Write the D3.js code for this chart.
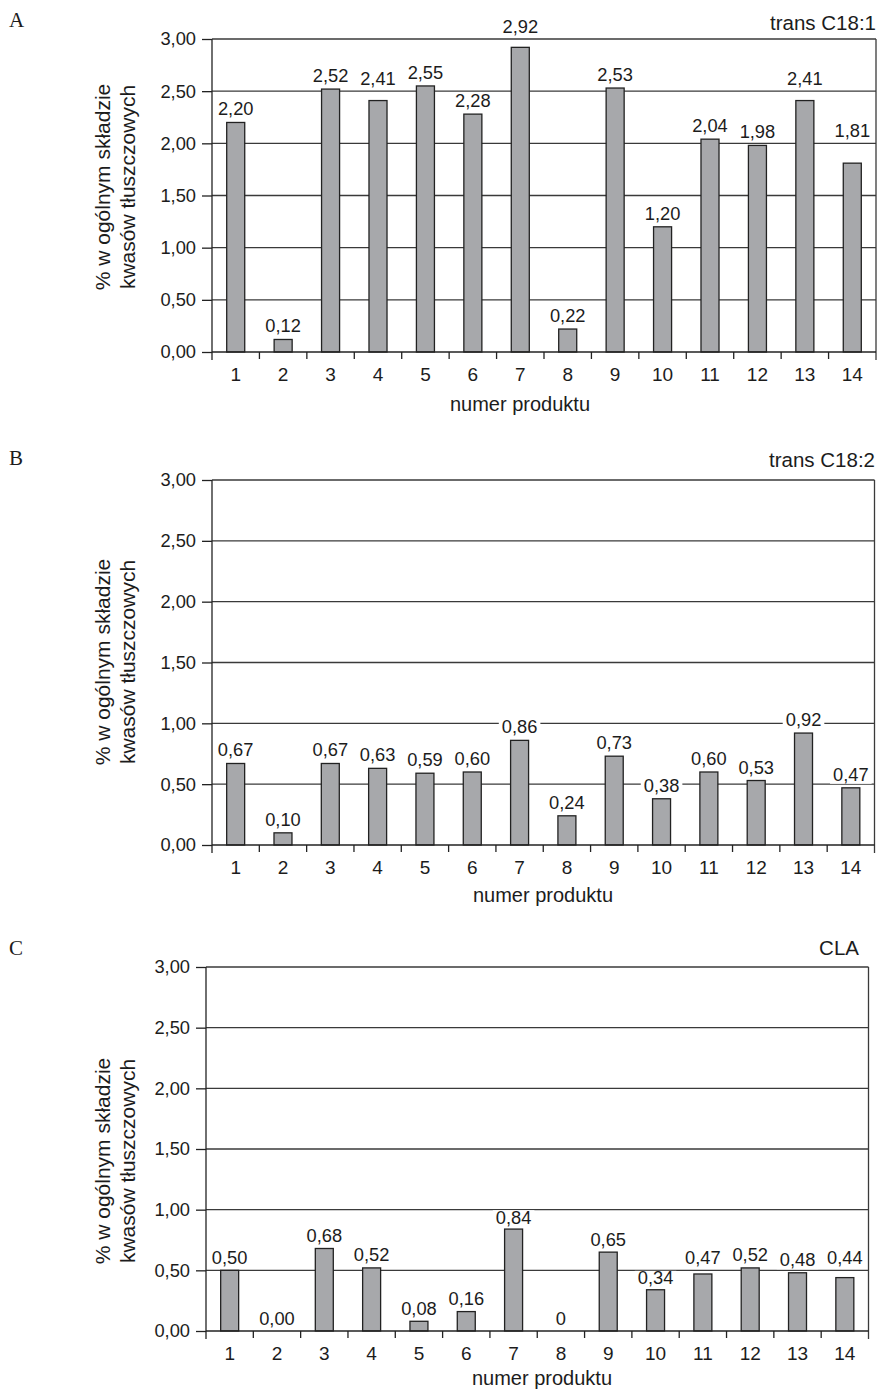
<!DOCTYPE html>
<html>
<head>
<meta charset="utf-8">
<script src="https://cdn.jsdelivr.net/npm/d3@7"></script>
<style>
  html, body { margin: 0; padding: 0; background: #fff; }
  svg { display: block; }
  text { font-family: "Liberation Sans", Arial, sans-serif; fill: #1c1c1c; }
</style>
</head>
<body>
<svg id="chart" width="879" height="1390"></svg>
<script>
// ---- data ----
const products = ["1","2","3","4","5","6","7","8","9","10","11","12","13","14"];
const yTicks = [0, 0.5, 1, 1.5, 2, 2.5, 3];
const valuesA = [2.20, 0.12, 2.52, 2.41, 2.55, 2.28, 2.92, 0.22, 2.53, 1.20, 2.04, 1.98, 2.41, 1.81];
const valuesB = [0.67, 0.10, 0.67, 0.63, 0.59, 0.60, 0.86, 0.24, 0.73, 0.38, 0.60, 0.53, 0.92, 0.47];
const valuesC = [0.50, 0.00, 0.68, 0.52, 0.08, 0.16, 0.84, 0, 0.65, 0.34, 0.47, 0.52, 0.48, 0.44];
const labelsC = ["0,50","0,00","0,68","0,52","0,08","0,16","0,84","0","0,65","0,34","0,47","0,52","0,48","0,44"];
const panelLetters = ["A", "B", "C"];
const panelTitles = ["trans C18:1", "trans C18:2", "CLA"];
const yLabelLines = ["% w ogólnym składzie", "kwasów tłuszczowych"];
const xLabel = "numer produktu";

const fmt = v => d3.format(".2f")(v).replace(".", ",");

// ---- layout (positions only) ----
// avoid: how value labels deal with gridlines ("up" = lift above line, "near" = small nudge down else lift, "none" = knock out line)
const panels = [
  { values: valuesA, labels: valuesA.map(fmt), left: 212, right: 876, top: 39, bottom: 352, gap: 7, avoid: "up",
    letterY: 27, titleRight: 876, titleY: 30, xLabelX: 520, xLabelY: 411, yLabelCY: 187 },
  { values: valuesB, labels: valuesB.map(fmt), left: 212, right: 874.5, top: 480, bottom: 845, gap: 7, avoid: "none",
    letterY: 465, titleRight: 875, titleY: 467, xLabelX: 543, xLabelY: 902, yLabelCY: 662 },
  { values: valuesC, labels: labelsC, left: 206, right: 868.5, top: 967, bottom: 1331, gap: 6.5, avoid: "near",
    letterY: 955, titleRight: 859, titleY: 955, xLabelX: 542, xLabelY: 1385, yLabelCY: 1161 }
];

const svg = d3.select("#chart");
const gridColor = "#3a3a3a";
const CAP = 13;

panels.forEach((p, i) => {
  const g = svg.append("g");
  const x = d3.scaleBand().domain(products).range([p.left, p.right]).paddingInner(0.62).paddingOuter(0.31);
  const xb = d3.scaleBand().domain(products).range([p.left, p.right]);
  const y = d3.scaleLinear().domain([0, 3]).range([p.bottom, p.top]);
  const gridYs = yTicks.filter(t => t > 0).map(t => y(t));

  // gridlines
  g.selectAll("line.grid").data(yTicks.filter(t => t > 0)).join("line")
    .attr("x1", p.left).attr("x2", p.right)
    .attr("y1", d => y(d)).attr("y2", d => y(d))
    .attr("stroke", gridColor).attr("stroke-width", 1.3);

  // right border
  g.append("line").attr("x1", p.right).attr("x2", p.right)
    .attr("y1", p.top).attr("y2", p.bottom + 8)
    .attr("stroke", gridColor).attr("stroke-width", 1.3);

  // bars
  g.selectAll("rect.bar").data(p.values).join("rect")
    .attr("x", (d, j) => x(products[j]))
    .attr("width", x.bandwidth())
    .attr("y", d => y(d))
    .attr("height", d => y(0) - y(d))
    .attr("fill", "#a7a8ab")
    .attr("stroke", d => d > 0 ? "#222" : "none")
    .attr("stroke-width", 1.3);

  // value labels
  const lab = g.selectAll("g.lab").data(p.values).join("g");
  lab.each(function(d, j) {
    const gg = d3.select(this);
    const cx = xb(products[j]) + xb.bandwidth() / 2;
    const barTop = y(d);
    let by = barTop - p.gap;
    if (p.avoid !== "none") {
      gridYs.forEach(gy => {
        const hit = (by - CAP < gy + 1) && (by + 4 > gy);
        if (!hit) return;
        const down = gy + 14;
        if (p.avoid === "near" && down - by <= 3 && down <= barTop - 3) by = down;
        else by = gy - 6;
      });
    }
    const t = gg.append("text").attr("x", cx).attr("y", by)
      .attr("text-anchor", "middle").attr("font-size", 18.3).text(p.labels[j]);
    const bb = t.node().getBBox();
    gg.insert("rect", "text").attr("x", bb.x - 3).attr("y", by - 13.5)
      .attr("width", bb.width + 6).attr("height", 16.5).attr("fill", "#fff");
  });

  // y axis
  const yAxis = d3.axisLeft(y).tickValues(yTicks).tickSize(10).tickPadding(6).tickFormat(fmt);
  const ya = g.append("g").attr("transform", `translate(${p.left},0)`).call(yAxis);
  ya.select(".domain").attr("stroke", "#222").attr("stroke-width", 1.3)
    .attr("d", `M0,${p.top}V${p.bottom + 8}`);
  ya.selectAll(".tick line").attr("stroke", "#222").attr("stroke-width", 1.3);
  ya.selectAll(".tick text").attr("font-size", 18.3).attr("fill", "#1c1c1c")
    .attr("font-family", "Liberation Sans, Arial, sans-serif");

  // x axis
  const xAxis = d3.axisBottom(xb).tickSize(0).tickPadding(16);
  const xa = g.append("g").attr("transform", `translate(0,${p.bottom})`).call(xAxis);
  xa.select(".domain").attr("stroke", "#222").attr("stroke-width", 1.3)
    .attr("d", `M${p.left},0H${p.right}`);
  xa.selectAll(".tick text").attr("font-size", 19).attr("fill", "#1c1c1c")
    .attr("font-family", "Liberation Sans, Arial, sans-serif");
  // boundary ticks between categories
  g.selectAll("line.bt").data(products.slice(1)).join("line")
    .attr("x1", d => xb(d)).attr("x2", d => xb(d))
    .attr("y1", p.bottom).attr("y2", p.bottom + 7)
    .attr("stroke", "#222").attr("stroke-width", 1.3);

  // x label
  g.append("text").attr("x", p.xLabelX).attr("y", p.xLabelY)
    .attr("text-anchor", "middle").attr("font-size", 20).text(xLabel);

  // y label (two rotated lines)
  const yl = g.append("text").attr("transform", `translate(103,${p.yLabelCY}) rotate(-90)`)
    .attr("text-anchor", "middle").attr("font-size", 21);
  yl.append("tspan").attr("x", 0).attr("y", 7).text(yLabelLines[0]);
  yl.append("tspan").attr("x", 0).attr("y", 32).text(yLabelLines[1]);

  // panel title
  g.append("text").attr("x", p.titleRight).attr("y", p.titleY)
    .attr("text-anchor", "end").attr("font-size", 20.5).text(panelTitles[i]);

  // panel letter
  g.append("text").attr("x", 9).attr("y", p.letterY)
    .style("font-family", "'Liberation Serif', 'Times New Roman', serif")
    .attr("font-size", 21).text(panelLetters[i]);
});
</script>
</body>
</html>
